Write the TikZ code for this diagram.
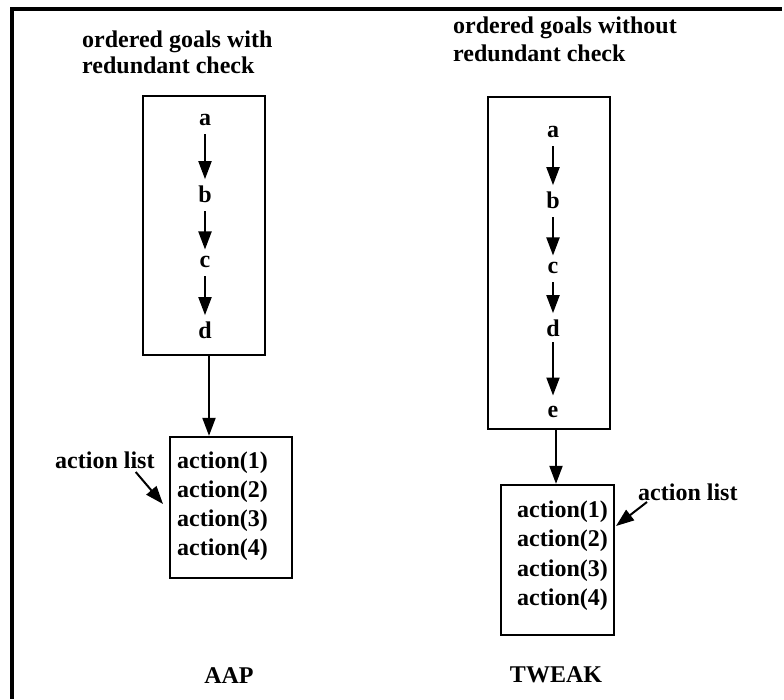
\documentclass[tikz,border=0pt]{standalone}
\usepackage{fontspec}
\setmainfont{Liberation Serif}
\usetikzlibrary{arrows.meta}
\begin{document}
\begin{tikzpicture}[x=1pt,y=-1pt,
  txt/.style={inner sep=0pt,font=\fontsize{24}{29}\selectfont\bfseries},
  lbl/.style={txt,anchor=base},
  lblw/.style={txt,anchor=base west},
  box/.style={draw,line width=2.3pt,inner sep=0pt},
  arr/.style={line width=2pt,-{Triangle[width=13pt,length=18pt]}},
  chainarr/.style={arr,shorten <=9pt,shorten >=6pt}]
\useasboundingbox (0,0) rectangle (784,699);
% open frame: top and left sides only
\draw[line width=3.5pt] (782,9) -- (12,9) -- (12,699);

% ---- AAP ----
\node[lblw] (tL1) at (82,47) {ordered goals with};
\node[lblw] (tL2) at (82,73) {redundant check};
\node[box,minimum width=122pt,minimum height=259pt] (goalsL) at (204,225.5) {};
\node[lbl] (aL) at (205,125) {a};
\node[lbl] (bL) at (205,202) {b};
\node[lbl] (cL) at (205,267) {c};
\node[lbl] (dL) at (205,338) {d};
\draw[chainarr] (aL.south) -- (bL.north);
\draw[chainarr] (bL.south) -- (cL.north);
\draw[chainarr] (cL.south) -- (dL.north);
\node[box,minimum width=122pt,minimum height=141pt] (actL) at (231,507.5) {};
\node[lblw] (aL1) at (177,468) {action(1)};
\node[lblw] (aL2) at (177,497) {action(2)};
\node[lblw] (aL3) at (177,526) {action(3)};
\node[lblw] (aL4) at (177,555) {action(4)};
\draw[arr] ([xshift=4pt]dL |- goalsL.south) -- ([xshift=4pt]dL |- actL.north);
\node[lblw] (listL) at (55,468) {action list};
\coordinate (tipL) at (163,504);
\draw[arr] ([xshift=-19pt,yshift=-4pt]listL.base east) -- (tipL);
\node[lbl] (aap) at (229,683) {AAP};

% ---- TWEAK ----
\node[lblw] (tR1) at (453,33) {ordered goals without};
\node[lblw] (tR2) at (453,61) {redundant check};
\node[box,minimum width=122pt,minimum height=332pt] (goalsR) at (549,263) {};
\node[lbl] (aR) at (553,137) {a};
\node[lbl] (bR) at (553,208) {b};
\node[lbl] (cR) at (553,273) {c};
\node[lbl] (dR) at (553,336) {d};
\node[lbl] (eR) at (553,417) {e};
\draw[chainarr] (aR.south) -- (bR.north);
\draw[chainarr] (bR.south) -- (cR.north);
\draw[chainarr] (cR.south) -- (dR.north);
\draw[chainarr,shorten <=6pt,shorten >=10pt] (dR.south) -- (eR.north);
\node[box,minimum width=113pt,minimum height=150pt] (actR) at (557.5,560) {};
\node[lblw] (aR1) at (517,517) {action(1)};
\node[lblw] (aR2) at (517,546) {action(2)};
\node[lblw] (aR3) at (517,576) {action(3)};
\node[lblw] (aR4) at (517,605) {action(4)};
\draw[arr] ([xshift=3pt]eR |- goalsR.south) -- ([xshift=3pt]eR |- actR.north);
\node[lblw] (listR) at (638,500) {action list};
\coordinate (tipR) at (616,526);
\draw[arr] ([xshift=9pt,yshift=-2pt]listR.base west) -- (tipR);
\node[lbl] (tweak) at (556,682) {TWEAK};
\end{tikzpicture}
\end{document}
